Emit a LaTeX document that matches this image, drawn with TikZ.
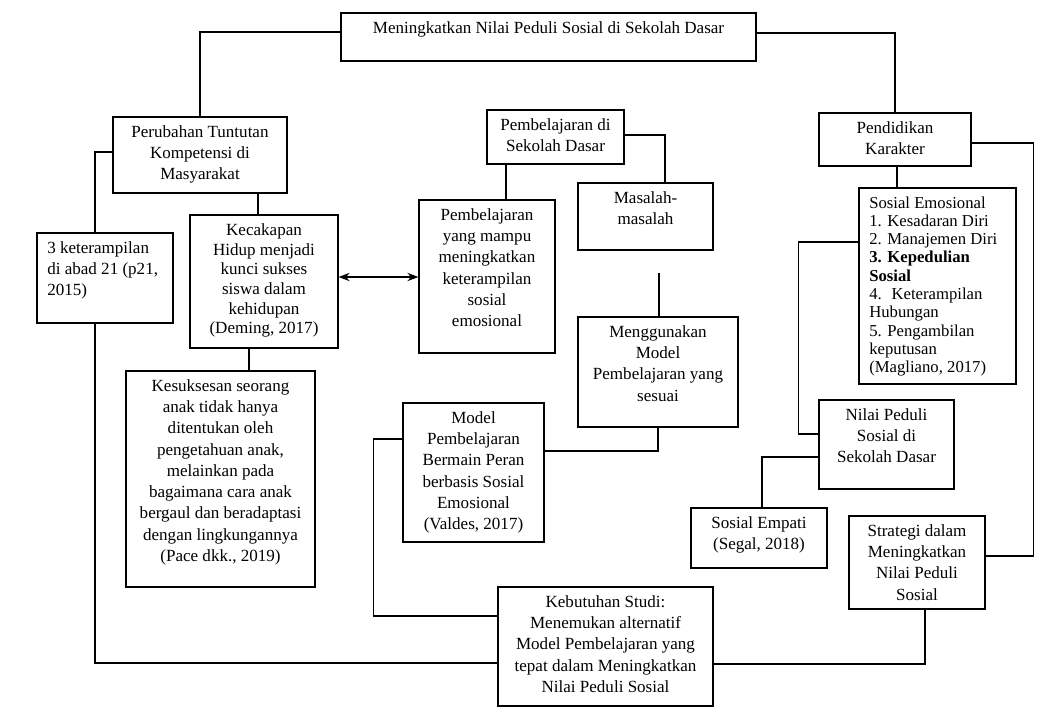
\documentclass[tikz,border=0pt]{standalone}
\usepackage{fontspec}
\setmainfont{Liberation Serif}
\usetikzlibrary{arrows.meta,positioning,calc}

\begin{document}
\begin{tikzpicture}[
  x=0.02cm, y=-0.02cm,
  font=\fontsize{9.7}{12.1}\selectfont,
  box/.style={draw, line width=0.7pt, inner sep=0pt},
  txt/.style={anchor=north, align=center, inner sep=0pt, yshift=-5pt},
  txtl/.style={anchor=north west, align=left, inner sep=0pt,
    xshift=6pt, yshift=-5pt},
  line/.style={line width=0.7pt},
  dbl/.style={{Stealth[length=2.2mm]}-{Stealth[length=2.2mm]}, line width=0.7pt}
]
  \useasboundingbox (0,0) rectangle (1057,713);

  % top row
  \node[box, minimum width=8.30cm, minimum height=0.96cm,
    label={[txt]north:Meningkatkan Nilai Peduli Sosial di Sekolah Dasar}] (goal) at (548.5,37) {};
  \node[box, minimum width=3.48cm, minimum height=1.52cm,
    label={[txt]north:Perubahan Tuntutan\\Kompetensi di\\Masyarakat}] (perubahan) at (200,155) {};
  \node[box, minimum width=2.74cm, minimum height=1.08cm,
    label={[txt]north:Pembelajaran di\\Sekolah Dasar}] (pembsd) at (555.5,137) {};
  \node[box, minimum width=3.04cm, minimum height=1.06cm,
    label={[txt]north:Pendidikan\\Karakter}] (pendidikan) at (895,139.5) {};

  % left branch
  \node[box, minimum width=2.72cm, minimum height=1.80cm,
    label={[txtl]north west:3 keterampilan\\di abad 21 (p21,\\2015)}] (ket21) at (105,278) {};
  \node[box, minimum width=2.96cm, minimum height=2.66cm,
    label={[txt, font=\fontsize{9.7}{11.2}\selectfont]north:Kecakapan\\Hidup menjadi\\kunci sukses\\siswa dalam\\kehidupan\\(Deming, 2017)}] (kecakapan) at (264,281.5) {};
  \node[box, minimum width=3.78cm, minimum height=4.32cm,
    label={[txt]north:Kesuksesan seorang\\anak tidak hanya\\ditentukan oleh\\pengetahuan anak,\\melainkan pada\\bagaimana cara anak\\bergaul dan beradaptasi\\dengan lingkungannya\\(Pace dkk., 2019)}] (kesuksesan) at (220.5,479) {};

  % middle branch
  \node[box, minimum width=2.72cm, minimum height=3.06cm,
    label={[txt]north:Pembelajaran\\yang mampu\\meningkatkan\\keterampilan\\sosial\\emosional}] (mampu) at (487,276.5) {};
  \node[box, minimum width=2.70cm, minimum height=1.34cm,
    label={[txt]north:Masalah-\\masalah}] (masalah) at (645.5,216.5) {};
  \node[box, minimum width=3.20cm, minimum height=2.20cm,
    label={[txt]north:Menggunakan\\Model\\Pembelajaran yang\\sesuai}] (menggunakan) at (658,372) {};
  \node[box, minimum width=2.82cm, minimum height=2.78cm,
    label={[txt]north:Model\\Pembelajaran\\Bermain Peran\\berbasis Sosial\\Emosional\\(Valdes, 2017)}] (model) at (473.5,472.5) {};
  \node[box, minimum width=4.30cm, minimum height=2.38cm,
    label={[txt]north:Kebutuhan Studi:\\Menemukan alternatif\\Model Pembelajaran yang\\tepat dalam Meningkatkan\\Nilai Peduli Sosial}] (kebutuhan) at (605.5,646.5) {};

  % right branch
  \node[box, minimum width=3.14cm, minimum height=3.92cm,
    label={[txtl, font=\fontsize{9.5}{10.4}\selectfont]north west:Sosial Emosional\\1. Kesadaran Diri\\2. Manajemen Diri\\\textbf{3. Kepedulian}\\\textbf{Sosial}\\4.~ Keterampilan\\Hubungan\\5. Pengambilan\\keputusan\\(Magliano, 2017)}] (sosem) at (937.5,286) {};
  \node[box, minimum width=2.70cm, minimum height=1.78cm,
    label={[txt]north:Nilai Peduli\\Sosial di\\Sekolah Dasar}] (nilai) at (886.5,444.5) {};
  \node[box, minimum width=2.72cm, minimum height=1.20cm,
    label={[txt]north:Sosial Empati\\(Segal, 2018)}] (empati) at (759,538) {};
  \node[box, minimum width=2.72cm, minimum height=1.86cm,
    label={[txt]north:Strategi dalam\\Meningkatkan\\Nilai Peduli\\Sosial}] (strategi) at (917,562.5) {};

  \coordinate (gap) at (659,273);

  % connectors
  \draw[line] ([yshift=0.10cm]goal.west) -| (perubahan.north);
  \draw[line] ([yshift=0.08cm]goal.east) -| (pendidikan.north);
  \draw[line] ([yshift=0.06cm]perubahan.west) -| ([xshift=-0.2cm]ket21.north);
  \draw[line] ([xshift=1.16cm]perubahan.south) -- ([xshift=1.16cm]perubahan.south |- kecakapan.north);
  \draw[line] ([xshift=-0.2cm]ket21.south) |- ([yshift=-0.33cm]kebutuhan.west);
  \draw[dbl] ([yshift=0.09cm]kecakapan.east) -- ([yshift=0.09cm]kecakapan.east -| mampu.west);
  \draw[line] ([xshift=-0.3cm]kecakapan.south) -- ([xshift=-0.3cm]kecakapan.south |- kesuksesan.north);
  \draw[line] ([yshift=0.04cm]pembsd.east) -| ([xshift=0.39cm]masalah.north);
  \draw[line] ([xshift=0.38cm]mampu.north) -- ([xshift=0.38cm]mampu.north |- pembsd.south);
  \draw[line] (gap) -- (gap |- menggunakan.north);
  \draw[line] (menggunakan.south) |- ([yshift=0.43cm]model.east);
  \draw[line] ([yshift=0.67cm]model.west) -- ++(-29,0) |- ([yshift=0.61cm]kebutuhan.west);
  \draw[line] ([yshift=0.88cm]sosem.west) -- ++(-60,0) |- ([yshift=0.21cm]nilai.west);
  \draw[line] ([xshift=-0.81cm]sosem.north) -- ([xshift=-0.81cm]sosem.north |- pendidikan.south);
  \draw[line] ([yshift=-0.25cm]nilai.west) -| ([xshift=0.06cm]empati.north);
  \draw[line] ([yshift=-0.07cm]pendidikan.east) -- ++(62,0) |- ([yshift=0.13cm]strategi.east);
  \draw[line] ([xshift=0.16cm]strategi.south) |- ([yshift=-0.35cm]kebutuhan.east);
\end{tikzpicture}
\end{document}
